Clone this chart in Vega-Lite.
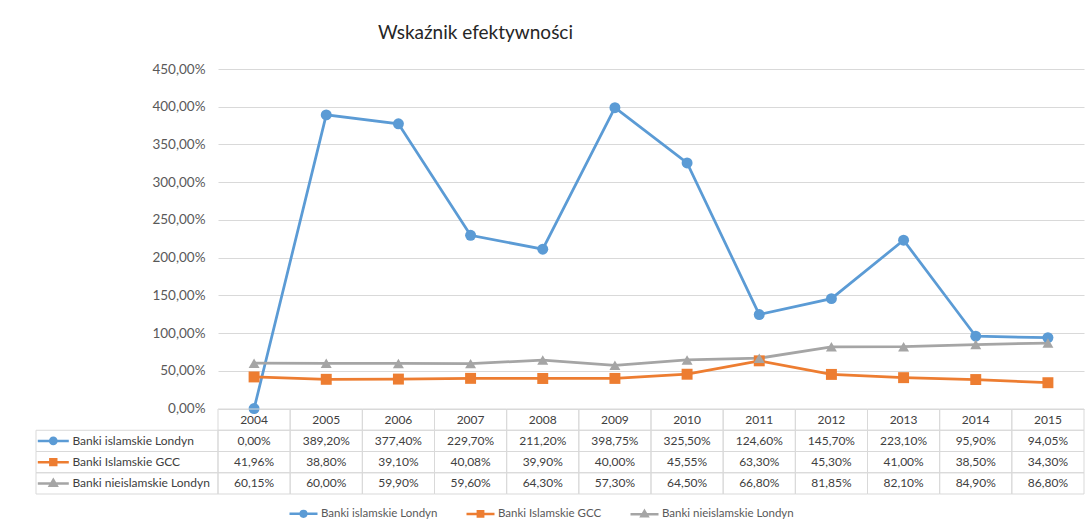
{
  "$schema": "https://vega.github.io/schema/vega-lite/v6.json",
  "background": "white",
  "padding": {"left": 32, "top": 24, "right": 4, "bottom": 10},
  "datasets": {
    "dane": [
      {"seria": "Banki islamskie Londyn", "rok": "2004", "wartosc": 0},
      {"seria": "Banki islamskie Londyn", "rok": "2005", "wartosc": 3.892},
      {"seria": "Banki islamskie Londyn", "rok": "2006", "wartosc": 3.774},
      {"seria": "Banki islamskie Londyn", "rok": "2007", "wartosc": 2.297},
      {"seria": "Banki islamskie Londyn", "rok": "2008", "wartosc": 2.112},
      {"seria": "Banki islamskie Londyn", "rok": "2009", "wartosc": 3.9875},
      {"seria": "Banki islamskie Londyn", "rok": "2010", "wartosc": 3.255},
      {"seria": "Banki islamskie Londyn", "rok": "2011", "wartosc": 1.246},
      {"seria": "Banki islamskie Londyn", "rok": "2012", "wartosc": 1.457},
      {"seria": "Banki islamskie Londyn", "rok": "2013", "wartosc": 2.231},
      {"seria": "Banki islamskie Londyn", "rok": "2014", "wartosc": 0.959},
      {"seria": "Banki islamskie Londyn", "rok": "2015", "wartosc": 0.9405},
      {"seria": "Banki Islamskie GCC", "rok": "2004", "wartosc": 0.4196},
      {"seria": "Banki Islamskie GCC", "rok": "2005", "wartosc": 0.388},
      {"seria": "Banki Islamskie GCC", "rok": "2006", "wartosc": 0.391},
      {"seria": "Banki Islamskie GCC", "rok": "2007", "wartosc": 0.4008},
      {"seria": "Banki Islamskie GCC", "rok": "2008", "wartosc": 0.399},
      {"seria": "Banki Islamskie GCC", "rok": "2009", "wartosc": 0.4},
      {"seria": "Banki Islamskie GCC", "rok": "2010", "wartosc": 0.4555},
      {"seria": "Banki Islamskie GCC", "rok": "2011", "wartosc": 0.633},
      {"seria": "Banki Islamskie GCC", "rok": "2012", "wartosc": 0.453},
      {"seria": "Banki Islamskie GCC", "rok": "2013", "wartosc": 0.41},
      {"seria": "Banki Islamskie GCC", "rok": "2014", "wartosc": 0.385},
      {"seria": "Banki Islamskie GCC", "rok": "2015", "wartosc": 0.343},
      {"seria": "Banki nieislamskie Londyn", "rok": "2004", "wartosc": 0.6015},
      {"seria": "Banki nieislamskie Londyn", "rok": "2005", "wartosc": 0.6},
      {"seria": "Banki nieislamskie Londyn", "rok": "2006", "wartosc": 0.599},
      {"seria": "Banki nieislamskie Londyn", "rok": "2007", "wartosc": 0.596},
      {"seria": "Banki nieislamskie Londyn", "rok": "2008", "wartosc": 0.643},
      {"seria": "Banki nieislamskie Londyn", "rok": "2009", "wartosc": 0.573},
      {"seria": "Banki nieislamskie Londyn", "rok": "2010", "wartosc": 0.645},
      {"seria": "Banki nieislamskie Londyn", "rok": "2011", "wartosc": 0.668},
      {"seria": "Banki nieislamskie Londyn", "rok": "2012", "wartosc": 0.8185},
      {"seria": "Banki nieislamskie Londyn", "rok": "2013", "wartosc": 0.821},
      {"seria": "Banki nieislamskie Londyn", "rok": "2014", "wartosc": 0.849},
      {"seria": "Banki nieislamskie Londyn", "rok": "2015", "wartosc": 0.868}
    ],
    "serie": [
      {"seria": "Banki islamskie Londyn"},
      {"seria": "Banki Islamskie GCC"},
      {"seria": "Banki nieislamskie Londyn"}
    ]
  },
  "columns": 2,
  "spacing": 0,
  "bounds": "flush",
  "resolve": {"scale": {"shape": "independent", "fill": "independent", "stroke": "independent"}},
  "concat": [
    {
      "width": 182,
      "height": 339.6,
      "data": {"values": []},
      "mark": "point"
    },
    {
      "width": 866,
      "height": 339.6,
      "title": {"text": "Wskaźnik efektywności", "anchor": "start", "frame": "group", "dx": 160, "fontSize": 19, "font": "Lato", "fontWeight": "normal", "color": "#262626", "offset": 19},
      "data": {"name": "dane"},
      "encoding": {
        "x": {"field": "rok", "type": "ordinal", "scale": {"type": "point", "padding": 0.5}, "axis": null},
        "y": {
          "field": "wartosc", "type": "quantitative",
          "scale": {"domain": [0, 4.5], "nice": false},
          "axis": {"values": [0, 0.5, 1, 1.5, 2, 2.5, 3, 3.5, 4, 4.5], "format": ".2%", "title": null, "domain": false, "ticks": false, "grid": true, "gridColor": "#d9d9d9", "gridWidth": 1, "labelPadding": 13, "labelFont": "Lato", "labelFontSize": 13.5, "labelColor": "#595959"}
        },
        "color": {
          "field": "seria", "type": "nominal",
          "scale": {"domain": ["Banki islamskie Londyn", "Banki Islamskie GCC", "Banki nieislamskie Londyn"], "range": ["#5B9BD5", "#ED7D31", "#A5A5A5"]},
          "legend": null
        }
      },
      "layer": [
        {"mark": {"type": "line", "strokeWidth": 2.75}},
        {
          "mark": {"type": "point", "filled": true, "opacity": 1, "size": 120},
          "encoding": {
            "shape": {"field": "seria", "type": "nominal", "scale": {"domain": ["Banki islamskie Londyn", "Banki Islamskie GCC", "Banki nieislamskie Londyn"], "range": ["circle", "square", "triangle-up"]}, "legend": null}
          }
        }
      ]
    },
    {
      "width": 182,
      "height": 85,
      "data": {"name": "serie"},
      "encoding": {
        "y": {"field": "seria", "type": "nominal", "scale": {"type": "band", "domain": ["Rok", "Banki islamskie Londyn", "Banki Islamskie GCC", "Banki nieislamskie Londyn"], "paddingInner": 0, "paddingOuter": 0}, "axis": null}
      },
      "layer": [
        {
          "mark": {"type": "rect", "filled": false, "stroke": "#d9d9d9", "strokeWidth": 1},
          "encoding": {
            "x": {"datum": 0, "type": "quantitative", "scale": {"domain": [0, 1], "nice": false, "zero": false}, "axis": null},
            "x2": {"datum": 1}
          }
        },
        {
          "mark": {"type": "point", "filled": true, "opacity": 1, "size": 961, "strokeWidth": 2.5},
          "encoding": {
            "x": {"datum": 0.095, "type": "quantitative"},
            "shape": {"field": "seria", "type": "nominal", "scale": {"domain": ["Banki islamskie Londyn", "Banki Islamskie GCC", "Banki nieislamskie Londyn"], "range": ["M-1,0L1,0M-0.2,0A0.2,0.2,0,1,1,0.2,0A0.2,0.2,0,1,1,-0.2,0Z", "M-1,0L1,0M-0.19,-0.19L0.19,-0.19L0.19,0.19L-0.19,0.19Z", "M-1,0L1,0M0,-0.22L0.22,0.16L-0.22,0.16Z"]},
              "legend": {"title": null, "orient": "none", "legendX": 252, "legendY": 89, "direction": "horizontal", "symbolSize": 784, "symbolStrokeWidth": 2.5, "symbolOpacity": 1, "labelFont": "Lato", "labelFontSize": 11.5, "labelColor": "#595959", "labelOffset": 2, "columnPadding": 23}},
            "fill": {"field": "seria", "type": "nominal", "scale": {"domain": ["Banki islamskie Londyn", "Banki Islamskie GCC", "Banki nieislamskie Londyn"], "range": ["#5B9BD5", "#ED7D31", "#A5A5A5"]},
              "legend": {"title": null, "orient": "none", "legendX": 252, "legendY": 89, "direction": "horizontal", "symbolSize": 784, "symbolStrokeWidth": 2.5, "symbolOpacity": 1, "labelFont": "Lato", "labelFontSize": 11.5, "labelColor": "#595959", "labelOffset": 2, "columnPadding": 23}},
            "stroke": {"field": "seria", "type": "nominal", "scale": {"domain": ["Banki islamskie Londyn", "Banki Islamskie GCC", "Banki nieislamskie Londyn"], "range": ["#5B9BD5", "#ED7D31", "#A5A5A5"]},
              "legend": {"title": null, "orient": "none", "legendX": 252, "legendY": 89, "direction": "horizontal", "symbolSize": 784, "symbolStrokeWidth": 2.5, "symbolOpacity": 1, "labelFont": "Lato", "labelFontSize": 11.5, "labelColor": "#595959", "labelOffset": 2, "columnPadding": 23}}
          }
        },
        {
          "mark": {"type": "text", "align": "left", "baseline": "middle", "font": "Lato", "fontSize": 12, "color": "#404040"},
          "encoding": {
            "x": {"datum": 0.2, "type": "quantitative"},
            "text": {"field": "seria"}
          }
        }
      ]
    },
    {
      "width": 866,
      "height": 85,
      "data": {"name": "dane"},
      "encoding": {
        "x": {"field": "rok", "type": "ordinal", "scale": {"type": "band", "paddingInner": 0, "paddingOuter": 0}, "axis": null}
      },
      "layer": [
        {
          "mark": {"type": "rect", "filled": false, "stroke": "#d9d9d9", "strokeWidth": 1},
          "encoding": {
            "y": {"field": "seria", "type": "nominal", "scale": {"type": "band", "domain": ["Rok", "Banki islamskie Londyn", "Banki Islamskie GCC", "Banki nieislamskie Londyn"], "paddingInner": 0, "paddingOuter": 0}, "axis": null}
          }
        },
        {
          "mark": {"type": "text", "baseline": "middle", "font": "Lato", "fontSize": 12, "color": "#404040"},
          "encoding": {
            "y": {"field": "seria", "type": "nominal"},
            "text": {"field": "wartosc", "type": "quantitative", "format": ".2%"}
          }
        },
        {
          "transform": [{"filter": "datum.seria === 'Banki islamskie Londyn'"}],
          "mark": {"type": "rect", "filled": false, "stroke": "#d9d9d9", "strokeWidth": 1},
          "encoding": {
            "y": {"datum": "Rok", "type": "nominal"}
          }
        },
        {
          "transform": [{"filter": "datum.seria === 'Banki islamskie Londyn'"}],
          "mark": {"type": "text", "baseline": "middle", "font": "Lato", "fontSize": 12, "color": "#404040"},
          "encoding": {
            "y": {"datum": "Rok", "type": "nominal"},
            "text": {"field": "rok"}
          }
        }
      ]
    }
  ],
  "config": {
    "view": {"stroke": null},
    "font": "Lato",
    "locale": {"number": {"decimal": ",", "thousands": " ", "grouping": [3], "currency": ["", " zł"]}}
  }
}
